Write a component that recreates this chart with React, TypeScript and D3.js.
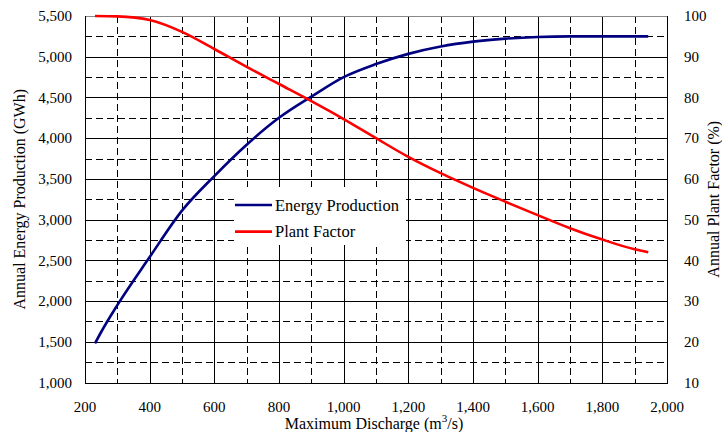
import React from "react";
import * as d3 from "d3";

const energyDischarge = [231, 250, 300, 400, 500, 600, 700, 800, 900, 1000, 1100, 1200, 1300, 1400, 1500, 1600, 1700, 1800, 1942];
const energyValues = [1480, 1620, 1950, 2540, 3110, 3535, 3920, 4250, 4510, 4750, 4910, 5035, 5125, 5185, 5222, 5243, 5250, 5250, 5250];

const factorDischarge = [231, 300, 400, 500, 600, 700, 800, 900, 1000, 1100, 1200, 1300, 1400, 1500, 1600, 1700, 1800, 1900, 1942];
const factorValues = [100, 99.9, 99.0, 96.1, 91.9, 87.5, 83.3, 79.1, 74.7, 70.0, 65.4, 61.4, 57.8, 54.4, 51.1, 47.9, 45.1, 42.7, 42.0];

const xTicks = [200, 400, 600, 800, 1000, 1200, 1400, 1600, 1800, 2000];
const xMinorTicks = [300, 500, 700, 900, 1100, 1300, 1500, 1700, 1900];
const leftTicks = [1000, 1500, 2000, 2500, 3000, 3500, 4000, 4500, 5000, 5500];
const leftMinorTicks = [1250, 1750, 2250, 2750, 3250, 3750, 4250, 4750, 5250];
const rightTicks = [10, 20, 30, 40, 50, 60, 70, 80, 90, 100];

const seriesNames = ["Energy Production", "Plant Factor"];
const seriesColors = ["#000080", "#ff0000"];

const W = 722;
const H = 432;
const L = 85, R = 667, T = 16, B = 382.5;

const FONT = '"Liberation Serif", "Times New Roman", Times, serif';

export default function App() {
  const x = d3.scaleLinear().domain([200, 2000]).range([L, R]);
  const yL = d3.scaleLinear().domain([1000, 5500]).range([B, T]);
  const yR = d3.scaleLinear().domain([10, 100]).range([B, T]);
  const fmt = d3.format(",");

  const energyLine = d3
    .line<number>()
    .x((_, i) => x(energyDischarge[i]))
    .y((d) => yL(d))
    .curve(d3.curveMonotoneX);
  const factorLine = d3
    .line<number>()
    .x((_, i) => x(factorDischarge[i]))
    .y((d) => yR(d))
    .curve(d3.curveMonotoneX);

  const r = (v: number) => Math.round(v) + 0.5;
  const tickStyle: React.CSSProperties = { fontFamily: FONT, fontSize: 15 };
  const titleStyle: React.CSSProperties = { fontFamily: FONT, fontSize: 16 };
  const legendStyle: React.CSSProperties = { fontFamily: FONT, fontSize: 16.5 };
  const midY = (T + B) / 2;

  return (
    <svg
      width={W}
      height={H}
      style={{ position: "absolute", left: 0, top: 0, background: "#fff", fontFamily: FONT }}
    >
      <rect x={0} y={0} width={W} height={H} fill="#fff" />
      <g stroke="#000" strokeWidth={1} strokeDasharray="7,4" shapeRendering="crispEdges">
        {xMinorTicks.map((t) => (
          <line key={"xm" + t} x1={r(x(t))} x2={r(x(t))} y1={T} y2={B} />
        ))}
        {leftMinorTicks.map((t) => (
          <line key={"ym" + t} x1={L} x2={R} y1={r(yL(t))} y2={r(yL(t))} />
        ))}
      </g>
      <g stroke="#000" strokeWidth={1} shapeRendering="crispEdges">
        {xTicks.map((t) => (
          <line key={"x" + t} x1={r(x(t))} x2={r(x(t))} y1={T} y2={B} />
        ))}
        {leftTicks.map((t) => (
          <line key={"y" + t} x1={L} x2={R} y1={r(yL(t))} y2={r(yL(t))} />
        ))}
      </g>
      <g fill="none" shapeRendering="crispEdges">
        <line x1={L} x2={R} y1={r(T)} y2={r(T)} stroke="#888" strokeWidth={1} />
        <line x1={r(L)} x2={r(L)} y1={T} y2={B} stroke="#000" strokeWidth={1.5} />
        <line x1={L} x2={R + 1} y1={r(B)} y2={r(B)} stroke="#000" strokeWidth={1.5} />
        <line x1={r(R)} x2={r(R)} y1={T} y2={B} stroke="#000" strokeWidth={1.5} />
      </g>
      <rect x={234} y={187} width={172} height={58} fill="#fff" />
      <path d={energyLine(energyValues) || ""} fill="none" stroke={seriesColors[0]} strokeWidth={2.6} />
      <path d={factorLine(factorValues) || ""} fill="none" stroke={seriesColors[1]} strokeWidth={2.6} />
      {seriesNames.map((n, i) => (
        <g key={n}>
          <line x1={235} x2={272} y1={205 + i * 26.6} y2={205 + i * 26.6} stroke={seriesColors[i]} strokeWidth={2.6} />
          <text x={275} y={210.5 + i * 26.6} style={legendStyle} fill="#000">
            {n}
          </text>
        </g>
      ))}
      <g fill="#000">
        {leftTicks.map((t) => (
          <text key={"lt" + t} x={72} y={yL(t)} dy="0.35em" textAnchor="end" style={tickStyle}>
            {fmt(t)}
          </text>
        ))}
        {rightTicks.map((t) => (
          <text key={"rt" + t} x={684} y={yR(t)} dy="0.35em" textAnchor="start" style={tickStyle}>
            {t}
          </text>
        ))}
        {xTicks.map((t) => (
          <text key={"xt" + t} x={x(t)} y={412} textAnchor="middle" style={tickStyle}>
            {fmt(t)}
          </text>
        ))}
      </g>
      <text transform={`translate(24.5,${midY}) rotate(-90)`} textAnchor="middle" style={titleStyle} fill="#000">
        Annual Energy Production (GWh)
      </text>
      <text transform={`translate(719,${midY}) rotate(-90)`} textAnchor="middle" style={titleStyle} fill="#000">
        Annual Plant Factor (%)
      </text>
      <text x={374} y={429} textAnchor="middle" style={titleStyle} fill="#000">
        Maximum Discharge (m
        <tspan dy={-7} style={{ fontSize: 11 }}>3</tspan>
        <tspan dy={7}>/s)</tspan>
      </text>
    </svg>
  );
}
